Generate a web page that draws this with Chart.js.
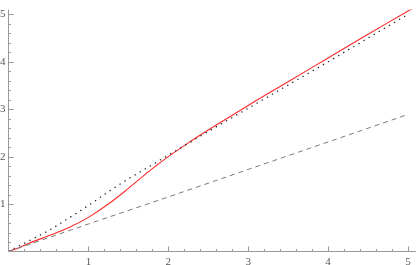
<!DOCTYPE html>
<html lang="en">
<head>
<meta charset="UTF-8">
<title>curves</title>
<script src="https://cdn.jsdelivr.net/npm/chart.js"></script>
<style>
    html, body { margin: 0; padding: 0; background: #fff; }
    #wrap { width: 416px; height: 265px; position: relative; }
</style>
</head>
<body>
<div id="wrap"><canvas id="plot"></canvas></div>
<script>
    // values
    const redX = [0, 0.1, 0.25, 0.5, 0.75, 1, 1.25, 1.5, 1.75, 2, 2.25, 2.5, 3, 3.5, 4, 4.5, 5, 5.1];
    const redY = [0, 0.06, 0.17, 0.33, 0.5, 0.72, 1.0, 1.33, 1.68, 2.0, 2.29, 2.56, 3.08, 3.58, 4.08, 4.58, 5.07, 5.17];
    const dotX = [0, 0.25, 0.5, 0.75, 1, 1.25, 1.5, 1.75, 2, 2.5, 3, 3.5, 4, 4.5, 5];
    const dotY = [0, 0.22, 0.44, 0.7, 0.97, 1.26, 1.53, 1.78, 2.03, 2.53, 3.02, 3.51, 4.0, 4.5, 5.0];
    const dashX = [0, 1, 2, 3, 4, 5];
    const dashY = [0, 0.58, 1.15, 1.73, 2.31, 2.89];
    const tickValues = [1, 2, 3, 4, 5];
    const minorStep = 0.2;

    const pts = (xs, ys) => xs.map((x, i) => ({ x: x, y: ys[i] }));

    // axes lines and inward ticks (major + minor)
    const axisTicks = {
        id: 'axisTicks',
        afterDraw(chart) {
            const c = chart.ctx, xs = chart.scales.x, ys = chart.scales.y;
            const a = chart.chartArea;
            c.save();
            c.strokeStyle = '#9a9a9a';
            c.lineWidth = 1;
            c.beginPath();
            c.moveTo(a.left, a.top); c.lineTo(a.left, a.bottom);
            c.moveTo(a.left, a.bottom); c.lineTo(a.right, a.bottom);
            for (let i = 1; i * minorStep <= xs.max + 1e-9; i++) {
                const v = i * minorStep;
                const major = Math.abs(v - Math.round(v)) < 1e-6;
                const len = major ? 5 : 2.5;
                const px = Math.round(xs.getPixelForValue(v)) + 0.5;
                c.moveTo(px, a.bottom); c.lineTo(px, a.bottom - len);
            }
            for (let i = 1; i * minorStep <= ys.max + 1e-9; i++) {
                const v = i * minorStep;
                const major = Math.abs(v - Math.round(v)) < 1e-6;
                const len = major ? 5 : 2.5;
                const py = Math.round(ys.getPixelForValue(v)) + 0.5;
                c.moveTo(a.left, py); c.lineTo(a.left + len, py);
            }
            c.stroke();
            c.restore();
        }
    };

    const setTicks = s => { s.ticks = tickValues.map(v => ({ value: v })); };

    new Chart(document.getElementById('plot'), {
        type: 'scatter',
        data: {
            datasets: [
                { data: pts(dashX, dashY), showLine: true, borderColor: '#7a7a7a', borderWidth: 1,
                  borderDash: [5, 4], pointRadius: 0, tension: 0 },
                { data: pts(dotX, dotY), showLine: true, borderColor: '#222', borderWidth: 1.3,
                  borderDash: [1.3, 4.6], pointRadius: 0, cubicInterpolationMode: 'monotone' },
                { data: pts(redX, redY), showLine: true, borderColor: '#ff2a2a', borderWidth: 1.1,
                  pointRadius: 0, cubicInterpolationMode: 'monotone' }
            ]
        },
        options: {
            responsive: true,
            maintainAspectRatio: false,
            animation: false,
            layout: { padding: 0 },
            plugins: { legend: { display: false }, tooltip: { enabled: false } },
            scales: {
                x: {
                    type: 'linear', min: 0, max: 5.1,
                    grid: { display: false, drawTicks: false },
                    border: { display: false },
                    afterBuildTicks: setTicks,
                    afterFit: s => { s.height = 13.5; },
                    ticks: { padding: 4, maxRotation: 0, color: '#555',
                             font: { family: 'Liberation Serif', size: 11 } }
                },
                y: {
                    type: 'linear', min: 0, max: 5.1,
                    grid: { display: false, drawTicks: false },
                    border: { display: false },
                    afterBuildTicks: setTicks,
                    afterFit: s => { s.width = 8.5; },
                    ticks: { padding: 3, color: '#555',
                             font: { family: 'Liberation Serif', size: 11 } }
                }
            }
        },
        plugins: [axisTicks]
    });
</script>
</body>
</html>
